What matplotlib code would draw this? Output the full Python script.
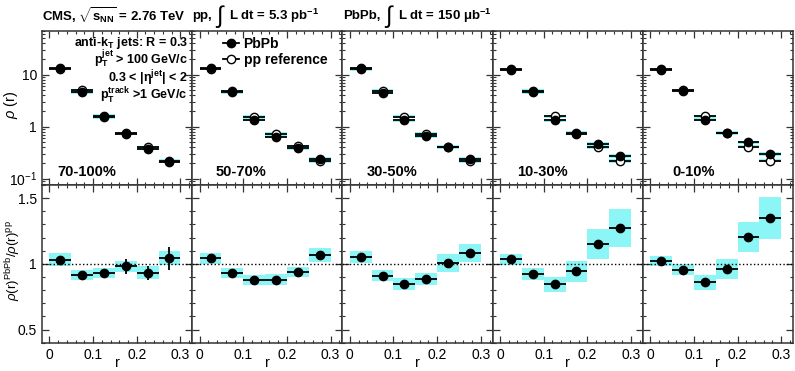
import matplotlib
matplotlib.use("Agg")
import matplotlib.pyplot as plt
from matplotlib.patches import Rectangle
from matplotlib.lines import Line2D
from matplotlib.ticker import MultipleLocator, FixedLocator, FixedFormatter, LogLocator, NullFormatter

plt.rcParams['font.family'] = ['Liberation Sans', 'DejaVu Sans']
plt.rcParams['mathtext.fontset'] = 'custom'
plt.rcParams['mathtext.rm'] = 'Liberation Sans'
plt.rcParams['mathtext.bf'] = 'Liberation Sans:bold'
plt.rcParams['mathtext.it'] = 'Liberation Sans:italic'

# data
centrality = ["70-100%", "50-70%", "30-50%", "10-30%", "0-10%"]
r = [0.025, 0.075, 0.125, 0.175, 0.225, 0.275]
bin_half = 0.025

rho_pbpb = [
    [13.2, 4.57, 1.51, 0.733, 0.377, 0.222],
    [13.2, 4.57, 1.36, 0.643, 0.389, 0.236],
    [13.2, 4.50, 1.32, 0.650, 0.408, 0.239],
    [13.0, 4.57, 1.32, 0.720, 0.464, 0.276],
    [12.8, 4.85, 1.36, 0.740, 0.500, 0.300],
]
rho_pp = [
    [12.8, 4.98, 1.62, 0.750, 0.400, 0.213],
    [12.7, 4.91, 1.55, 0.730, 0.415, 0.221],
    [12.6, 4.94, 1.56, 0.730, 0.405, 0.220],
    [12.5, 4.95, 1.57, 0.765, 0.403, 0.217],
    [12.5, 5.07, 1.58, 0.770, 0.410, 0.222],
]
rho_sys_rel = [0.05, 0.05, 0.06, 0.06, 0.07, 0.08]

ratio = [
    [1.033, 0.916, 0.929, 0.980, 0.934, 1.043],
    [1.041, 0.931, 0.878, 0.881, 0.937, 1.066],
    [1.051, 0.911, 0.848, 0.886, 1.008, 1.086],
    [1.036, 0.924, 0.843, 0.942, 1.150, 1.274],
    [1.020, 0.957, 0.860, 0.962, 1.208, 1.350],
]
ratio_stat = [
    [0.010, 0.020, 0.035, 0.060, 0.053, 0.086],
    [0.008, 0.012, 0.012, 0.015, 0.018, 0.030],
    [0.008, 0.012, 0.012, 0.015, 0.018, 0.025],
    [0.008, 0.010, 0.012, 0.015, 0.018, 0.020],
    [0.008, 0.010, 0.012, 0.015, 0.018, 0.025],
]
ratio_sys = [
    [0.046, 0.035, 0.040, 0.045, 0.047, 0.052],
    [0.043, 0.035, 0.040, 0.040, 0.040, 0.052],
    [0.045, 0.043, 0.048, 0.045, 0.067, 0.069],
    [0.042, 0.044, 0.055, 0.081, 0.112, 0.146],
    [0.040, 0.040, 0.056, 0.076, 0.114, 0.161],
]

cyan = '#8cf5f5'
frame = '#333333'
label_x = [0.1, 0.155, 0.16, 0.16, 0.2]   # where each centrality label sits

W, H = 795, 371
fig = plt.figure(figsize=(7.95, 3.71), dpi=100)
gs = fig.add_gridspec(2, 5, left=0.0528, right=0.9975, top=0.917, bottom=0.0763,
                      hspace=0, wspace=0, height_ratios=[154.3, 157.7])


def style(ax):
    for s in ax.spines.values():
        s.set_linewidth(1.1)
        s.set_color(frame)
    ax.tick_params(which='both', direction='in', top=True, right=True, colors=frame,
                   labelcolor='black', labelsize=10)
    ax.tick_params(which='major', length=5, width=0.9)
    ax.tick_params(which='minor', length=2.5, width=0.8)
    ax.set_xlim(-0.017, 0.327)
    ax.xaxis.set_major_locator(MultipleLocator(0.1))
    ax.xaxis.set_minor_locator(MultipleLocator(0.02))


def ftext(x, y, s, **kw):
    # place text in pixel coords measured from top-left
    kw.setdefault('fontsize', 9.5)
    kw.setdefault('fontweight', 'bold')
    kw.setdefault('va', 'center')
    fig.text(x / W, 1 - y / H, s, **kw)


for i in range(5):
    top = fig.add_subplot(gs[0, i])
    bot = fig.add_subplot(gs[1, i])
    style(top)
    style(bot)

    # upper panels: rho(r) for PbPb and pp reference
    top.set_yscale('log')
    top.set_ylim(0.075, 70)
    for vals, face in [(rho_pp[i], 'white'), (rho_pbpb[i], 'black')]:
        for x, y, s in zip(r, vals, rho_sys_rel):
            top.add_patch(Rectangle((x - bin_half, y * (1 - s)), 2 * bin_half, y * 2 * s,
                                    facecolor=cyan, edgecolor='none', zorder=1))
        top.errorbar(r, vals, xerr=bin_half, fmt='o', color='black', mfc=face, mec='black',
                     ms=6, mew=1.0, elinewidth=1.3, capsize=0, zorder=3)
    top.yaxis.set_major_locator(FixedLocator([0.1, 1, 10]))
    top.yaxis.set_minor_locator(LogLocator(base=10, subs=range(2, 10)))
    top.yaxis.set_minor_formatter(NullFormatter())
    top.set_xticklabels([])
    if i == 0:
        top.yaxis.set_major_formatter(FixedFormatter(['$10^{-1}$', '1', '10']))
    else:
        top.set_yticklabels([])
    top.text(label_x[i], 0.084, centrality[i], transform=top.transAxes, fontsize=10.5,
             fontweight='bold', va='center', ha='left')

    # lower panels: ratio PbPb / pp
    bot.set_ylim(0.4, 1.6)
    bot.axhline(1, color='black', ls=':', lw=1.0, zorder=2)
    for x, y, s in zip(r, ratio[i], ratio_sys[i]):
        bot.add_patch(Rectangle((x - bin_half, y - s), 2 * bin_half, 2 * s,
                                facecolor=cyan, edgecolor='none', zorder=1))
    bot.errorbar(r, ratio[i], xerr=bin_half, yerr=ratio_stat[i], fmt='o', color='black',
                 ms=6, elinewidth=1.3, capsize=0, zorder=3)
    bot.yaxis.set_major_locator(MultipleLocator(0.5))
    bot.yaxis.set_minor_locator(MultipleLocator(0.1))
    bot.set_xticks([0, 0.1, 0.2, 0.3])
    bot.set_xticklabels(['0', '0.1', '0.2', '0.3'])
    bot.set_xlabel('r', fontsize=10.5, labelpad=-4)
    if i == 0:
        bot.yaxis.set_major_formatter(plt.FuncFormatter(lambda v, p: '%g' % v))
    else:
        bot.set_yticklabels([])

    if i == 0:
        # jet selection, one text block, right aligned
        info = '\n'.join([r'anti-k$_{\mathbf{T}}$ jets: R = 0.3',
                          r'p$_{\mathbf{T}}^{\mathbf{jet}}$ > 100 GeV/c',
                          r'0.3 < |$\mathbf{\eta}^{\mathbf{jet}}$| < 2',
                          r'p$_{\mathbf{T}}^{\mathbf{track}}$ >1 GeV/c'])
        top.text(0.97, 0.975, info, transform=top.transAxes, fontsize=9, fontweight='bold',
                 ha='right', va='top', multialignment='right', linespacing=0.86)
    if i == 1:
        handles = [Line2D([], [], color='black', marker='o', ms=6, mfc='black', lw=1.3),
                   Line2D([], [], color='black', marker='o', ms=6, mfc='white', lw=1.3)]
        top.legend(handles, ['PbPb', 'pp reference'], loc='upper left', frameon=False,
                   bbox_to_anchor=(0.12, 1.04), handlelength=1.2, handletextpad=0.3,
                   labelspacing=0.15, prop={'weight': 'bold', 'size': 10})

# header
ftext(42, 16, r'CMS, $\sqrt{\mathbf{s}_{\mathbf{NN}}}$ = 2.76 TeV')
ftext(192, 16, 'pp,')
ftext(216, 17, '∫', fontsize=17, fontweight='normal')
ftext(229, 16, r'L dt = 5.3 pb$^{\mathbf{-1}}$')
ftext(343, 16, 'PbPb,')
ftext(385, 17, '∫', fontsize=17, fontweight='normal')
ftext(398, 16, r'L dt = 150 μb$^{\mathbf{-1}}$')

# axis titles
ftext(11, 105, r'$\rho$ (r)', fontsize=10.5, fontweight='normal', rotation=90, ha='center')
ftext(13, 261, r'$\rho$(r)$^{\mathrm{PbPb}}$/$\rho$(r)$^{\mathrm{pp}}$', fontsize=9.5,
      fontweight='normal', rotation=90, ha='center')

fig.savefig('out.png', dpi=100)
